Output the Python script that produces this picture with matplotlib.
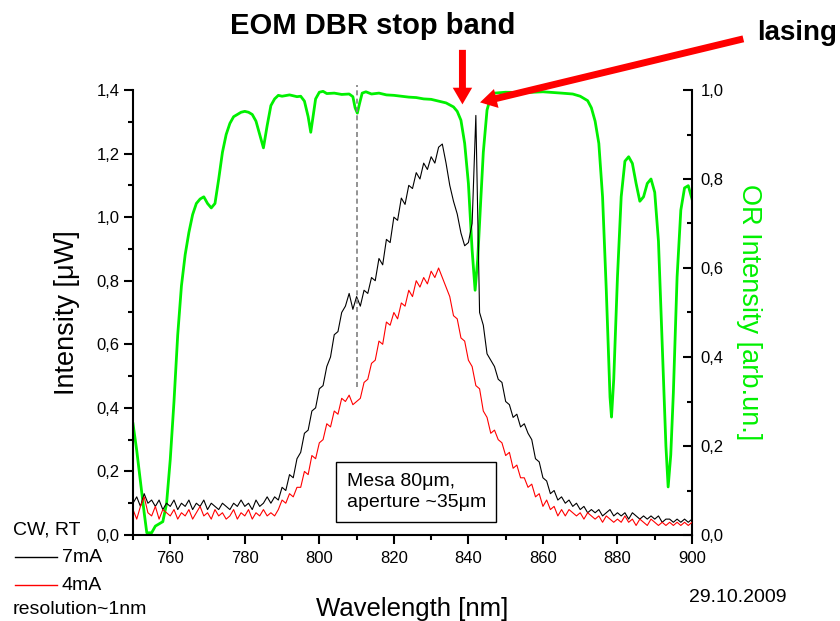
import matplotlib
matplotlib.use("Agg")
import matplotlib.pyplot as plt
import numpy as np
from matplotlib.lines import Line2D
from matplotlib.ticker import MultipleLocator, FuncFormatter

plt.rcParams['font.family'] = ['Liberation Sans', 'DejaVu Sans']

# electroluminescence spectra, 1 nm steps (left axis, uW)
wl = np.arange(750, 901, 1)
i_7mA = [0.10, 0.12, 0.09, 0.13, 0.10, 0.11, 0.09, 0.11, 0.08, 0.10,
         0.09, 0.11, 0.08, 0.10, 0.09, 0.11, 0.08, 0.10, 0.09, 0.11,
         0.08, 0.10, 0.09, 0.08, 0.10, 0.09, 0.08, 0.10, 0.09, 0.11,
         0.09, 0.10, 0.08, 0.11, 0.09, 0.10, 0.12, 0.10, 0.12, 0.11,
         0.15, 0.14, 0.19, 0.18, 0.24, 0.26, 0.32, 0.33, 0.39, 0.40,
         0.46, 0.47, 0.53, 0.56, 0.63, 0.64, 0.70, 0.72, 0.76, 0.71,
         0.75, 0.72, 0.77, 0.76, 0.81, 0.80, 0.87, 0.85, 0.93, 0.92,
         1.00, 0.99, 1.06, 1.04, 1.10, 1.09, 1.14, 1.12, 1.17, 1.15,
         1.19, 1.17, 1.22, 1.23, 1.17, 1.10, 1.05, 1.01, 0.95, 0.91,
         0.92, 0.98, 1.32, 0.70, 0.66, 0.57, 0.55, 0.53, 0.49, 0.48,
         0.42, 0.41, 0.37, 0.38, 0.34, 0.35, 0.32, 0.30, 0.24, 0.23,
         0.18, 0.17, 0.13, 0.14, 0.11, 0.12, 0.10, 0.11, 0.09, 0.10,
         0.08, 0.09, 0.07, 0.08, 0.07, 0.08, 0.06, 0.07, 0.08, 0.06,
         0.07, 0.06, 0.07, 0.05, 0.07, 0.06, 0.05, 0.06, 0.05, 0.06,
         0.05, 0.06, 0.04, 0.05, 0.05, 0.04, 0.05, 0.04, 0.05, 0.04,
         0.05]
i_4mA = [0.08, 0.05, 0.09, 0.12, 0.07, 0.06, 0.09, 0.05, 0.08, 0.07,
         0.06, 0.08, 0.05, 0.07, 0.06, 0.08, 0.05, 0.07, 0.09, 0.06,
         0.07, 0.05, 0.08, 0.06, 0.07, 0.05, 0.06, 0.08, 0.05, 0.07,
         0.06, 0.08, 0.05, 0.07, 0.06, 0.08, 0.06, 0.07, 0.06, 0.08,
         0.11, 0.10, 0.13, 0.12, 0.15, 0.15, 0.20, 0.19, 0.25, 0.24,
         0.29, 0.30, 0.35, 0.34, 0.39, 0.38, 0.43, 0.42, 0.44, 0.41,
         0.42, 0.43, 0.48, 0.49, 0.54, 0.55, 0.61, 0.60, 0.67, 0.66,
         0.70, 0.68, 0.73, 0.72, 0.77, 0.75, 0.80, 0.78, 0.81, 0.79,
         0.83, 0.81, 0.84, 0.81, 0.78, 0.75, 0.69, 0.68, 0.62, 0.61,
         0.55, 0.53, 0.47, 0.46, 0.39, 0.37, 0.32, 0.33, 0.30, 0.29,
         0.25, 0.26, 0.21, 0.22, 0.18, 0.18, 0.15, 0.16, 0.12, 0.13,
         0.09, 0.11, 0.08, 0.09, 0.06, 0.08, 0.06, 0.08, 0.07, 0.06,
         0.07, 0.05, 0.07, 0.06, 0.05, 0.06, 0.04, 0.06, 0.05, 0.04,
         0.05, 0.04, 0.06, 0.04, 0.05, 0.03, 0.05, 0.04, 0.03, 0.05,
         0.04, 0.03, 0.04, 0.03, 0.04, 0.03, 0.04, 0.03, 0.04, 0.03,
         0.04]

# optical reflectance (right axis, arb. un.)
or_wl = [750, 751, 752, 753, 753.7, 755, 756, 757, 758, 759, 760, 761, 762,
         763, 764, 765, 766, 767, 768, 769, 770, 771, 772, 773, 774, 775,
         776, 777, 778, 779, 780, 781, 782, 783, 784, 785, 786, 787, 788,
         789, 790, 792, 794, 795, 796, 797, 797.7, 798.4, 799, 800, 801,
         802, 804, 806, 808, 809, 809.6, 810.2, 810.8, 811.5, 812.5, 814,
         816, 818, 820, 822, 824, 826, 828, 830, 832, 834, 836, 837, 838,
         839, 840, 841, 841.8, 842.5, 843.3, 844, 845, 846, 847, 850, 855,
         860, 865, 868, 870, 872, 873, 874, 875, 876, 877, 878, 878.4, 879,
         880, 881, 882, 883, 884, 885, 886, 887, 888, 889, 890, 891, 892,
         893, 893.6, 894.3, 895, 896, 897, 898, 899, 900]
or_int = [0.25, 0.19, 0.12, 0.05, 0.005, 0.005, 0.02, 0.025, 0.03, 0.07,
          0.17, 0.30, 0.45, 0.56, 0.63, 0.68, 0.72, 0.745, 0.755, 0.76,
          0.745, 0.735, 0.745, 0.80, 0.86, 0.90, 0.925, 0.94, 0.945, 0.95,
          0.952, 0.95, 0.945, 0.93, 0.90, 0.87, 0.92, 0.965, 0.98, 0.988,
          0.986, 0.989, 0.985, 0.986, 0.975, 0.94, 0.905, 0.945, 0.98, 0.995,
          0.997, 0.992, 0.993, 0.99, 0.991, 0.985, 0.96, 0.948, 0.97, 0.993,
          0.996, 0.991, 0.993, 0.989, 0.988, 0.986, 0.984, 0.983, 0.980, 0.979,
          0.975, 0.971, 0.962, 0.952, 0.932, 0.88, 0.79, 0.64, 0.55, 0.62,
          0.75, 0.86, 0.955, 0.985, 0.993, 0.995, 0.994, 0.996, 0.993, 0.991,
          0.986, 0.976, 0.96, 0.93, 0.88, 0.76, 0.55, 0.31, 0.265, 0.35,
          0.58, 0.76, 0.84, 0.85, 0.835, 0.79, 0.75, 0.76, 0.79, 0.80,
          0.77, 0.66, 0.43, 0.20, 0.108, 0.18, 0.32, 0.58, 0.73, 0.78,
          0.785, 0.755]

GREEN = '#00f000'
W, H = 840, 621
fig = plt.figure(figsize=(W / 100, H / 100), dpi=100)
ax = fig.add_axes([133 / W, 1 - 535 / H, (692 - 133) / W, (535 - 90) / H])
ax2 = ax.twinx()
ax.set_zorder(ax2.get_zorder() + 1)
ax.patch.set_visible(False)

ax2.plot(or_wl, or_int, color=GREEN, lw=2.0)
ax.plot(wl, i_7mA, color='black', lw=0.8)
ax.plot(wl, i_4mA, color='red', lw=0.8)
ax.plot([810, 810], [0.465, 1.415], color='gray', lw=1.2, ls=(0, (3, 2)), clip_on=False)

ax.set_xlim(750, 900)
ax.set_ylim(0, 1.4)
ax2.set_ylim(0, 1.0)

comma = FuncFormatter(lambda v, p: f'{v:.1f}'.replace('.', ','))
ax.xaxis.set_major_locator(MultipleLocator(20))
ax.xaxis.set_minor_locator(MultipleLocator(10))
ax.yaxis.set_major_locator(MultipleLocator(0.2))
ax.yaxis.set_minor_locator(MultipleLocator(0.1))
ax.yaxis.set_major_formatter(comma)
ax2.yaxis.set_major_locator(MultipleLocator(0.2))
ax2.yaxis.set_minor_locator(MultipleLocator(0.1))
ax2.yaxis.set_major_formatter(comma)

for a in (ax, ax2):
    a.spines['top'].set_visible(False)
    for s in a.spines.values():
        s.set_linewidth(1.5)
ax.spines['right'].set_visible(False)
ax2.spines['left'].set_visible(False)
ax2.spines['bottom'].set_visible(False)

ax.tick_params(which='major', direction='out', length=6.5, width=1.5, labelsize=12, pad=3)
ax.tick_params(which='minor', direction='out', length=3.6, width=1.5)
ax.tick_params(axis='x', pad=5)
ax2.tick_params(which='major', direction='in', length=6.5, width=1.5, labelsize=12, pad=6)
ax2.tick_params(which='minor', direction='in', length=3.6, width=1.5)

ax.set_xlabel('Wavelength [nm]', fontsize=18.5, labelpad=22)
ax.set_ylabel('Intensity [\u03bcW]', fontsize=19.5, labelpad=12)
ax2.set_ylabel('OR Intensity [arb.un.]', fontsize=19.5, color=GREEN,
               rotation=270, labelpad=28)

ax.text(807.3, 0.135, 'Mesa 80\u03bcm,\naperture ~35\u03bcm', fontsize=14,
        va='center', ha='left', linespacing=1.3,
        bbox=dict(boxstyle='square,pad=0.55', fc='white', ec='black', lw=1.0))

# arrows and headline annotations
arrow = dict(arrowstyle='simple,tail_width=0.5,head_width=1.4,head_length=1.2',
             mutation_scale=10, color='red', lw=0)
ax.annotate('', xy=(838.4, 1.346), xytext=(838.4, 1.535), arrowprops=arrow,
            annotation_clip=False)
ax.annotate('', xy=(842.4, 1.359), xytext=(914.5, 1.563), arrowprops=arrow,
            annotation_clip=False)
fig.text(373 / W, 1 - 26 / H, 'EOM DBR stop band', fontsize=21, fontweight='bold',
         ha='center', va='center')
fig.text(757 / W, 1 - 33 / H, 'lasing', fontsize=20, fontweight='bold',
         ha='left', va='center')

# hand-made legend in the lower left corner
fig.text(13 / W, 1 - 530 / H, 'CW, RT', fontsize=14, va='center')
fig.add_artist(Line2D([15 / W, 57 / W], [1 - 557 / H] * 2, color='black', lw=1.0))
fig.add_artist(Line2D([15 / W, 57 / W], [1 - 585 / H] * 2, color='red', lw=1.0))
fig.text(62 / W, 1 - 557 / H, '7mA', fontsize=14, va='center')
fig.text(62 / W, 1 - 585 / H, '4mA', fontsize=14, va='center')
fig.text(13 / W, 1 - 610 / H, 'resolution~1nm', fontsize=14, va='center')
fig.text(738 / W, 1 - 597 / H, '29.10.2009', fontsize=14, ha='center', va='center')

fig.savefig('out.png', dpi=100)
